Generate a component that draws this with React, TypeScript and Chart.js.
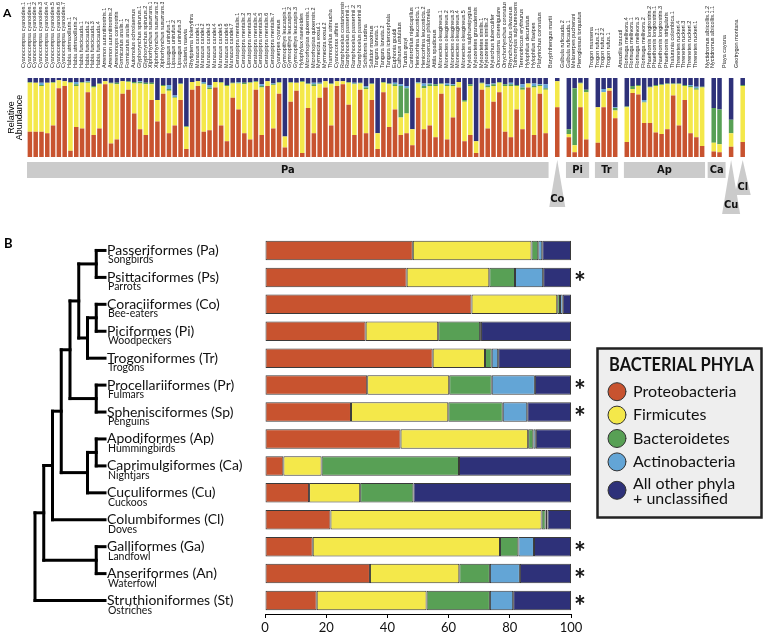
import React, { useEffect, useRef } from "react";
import { Chart, registerables } from "chart.js";
Chart.register(...registerables);

// ---------- shared ----------
const PHYLA = ["Proteobacteria", "Firmicutes", "Bacteroidetes", "Actinobacteria", "All other phyla + unclassified"];
const LEGEND_LINES = [["Proteobacteria"], ["Firmicutes"], ["Bacteroidetes"], ["Actinobacteria"], ["All other phyla", "+ unclassified"]];
const COLORS = ["#C8532F", "#F4E84A", "#58A055", "#63A5D6", "#2E3179"];
const FONT = 'Lato, "Liberation Sans", sans-serif';

// ---------- panel A data ----------
const aGroupCodes = ["Pa", "Co", "Pi", "Tr", "Ap", "Ca", "Cu", "Cl"];
const aPaNames = [
  "Cyanocompsa cyanoides.1.1", "Cyanocompsa cyanoides.1.2", "Cyanocompsa cyanoides.2", "Cyanocompsa cyanoides.3",
  "Cyanocompsa cyanoides.4", "Cyanocompsa cyanoides.5", "Cyanocompsa cyanoides.6", "Cyanocompsa cyanoides.7",
  "Habia atrimaxillaris.1", "Habia atrimaxillaris.2", "Habia fuscicauda.1", "Habia fuscicauda.2",
  "Habia fuscicauda.3", "Habia fuscicauda.4", "Arremon aurantiirostris.1", "Arremon aurantiirostris.2",
  "Arremonops conirostris", "Formicarius analis.1", "Formicarius analis.2", "Automolus ochrolaemus",
  "Glyphorynchus spirurus.1", "Glyphorynchus spirurus.2", "Xiphorhynchus susurrans.1", "Xiphorhynchus susurrans.2",
  "Xiphorhynchus susurrans.3", "Lipaugus unirufus.1", "Lipaugus unirufus.2", "Lipaugus unirufus.3",
  "Sclateria naevia", "Rhytipterna holerythra",
  "Manacus candei.1", "Manacus candei.2", "Manacus candei.3", "Manacus candei.4", "Manacus candei.5",
  "Manacus candei.6", "Manacus candei.7",
  "Ceratopipra mentalis.1", "Ceratopipra mentalis.2", "Ceratopipra mentalis.3", "Ceratopipra mentalis.4",
  "Ceratopipra mentalis.5", "Ceratopipra mentalis.6", "Ceratopipra mentalis.7",
  "Cyanerpes cyaneus", "Gymnopithys leucaspis.1", "Gymnopithys leucaspis.2", "Gymnopithys leucaspis.3",
  "Hylophylax naevioides", "Microrhopias quixensis.1", "Microrhopias quixensis.2", "Myrmeciza exsul.1",
  "Myrmeciza exsul.2", "Thamnophilus atrinucha", "Cyanocorax affinis", "Ramphocelus costaricensis",
  "Ramphocelus passerinii.1", "Ramphocelus passerinii.2", "Ramphocelus passerinii.3", "Schiffornis turdina",
  "Saltator maximus", "Tangara larvata.1", "Tangara larvata.2", "Tangara icterocephala",
  "Euphonia gouldi", "Catharus ustulatus", "Turdus grayi", "Cantorchilus nigricapillus",
  "Henicorhina leucosticta.1", "Henicorhina leucosticta.2", "Microcerculus philomela", "Attila spadiceus",
  "Mionectes oleagineus.1", "Mionectes oleagineus.2", "Mionectes oleagineus.3", "Mionectes oleagineus.4",
  "Mionectes oleagineus.5", "Myiobius sulphureipygius", "Myiozetetes granadensis", "Myiozetetes similis.1",
  "Myiozetetes similis.2", "Myiarchus tuberculifer", "Oncostoma cinereigulare", "Onychorhynchus coronatus",
  "Rhynchocyclus olivaceus", "Tolmomyias sulphurescens", "Terenotriccus erythrurus", "Hylophilus decurtatus",
  "Hylophilus flavipes", "Platyrinchus coronatus",
];
const aCoNames = ["Baryphthengus martii"];
const aPiNames = ["Galbula ruficauda.2", "Galbula ruficauda.1", "Melanerpes pucherani", "Pteroglossus torquatus"];
const aTrNames = ["Trogon massena", "Trogon rufus.2.1", "Trogon rufus.2.2", "Trogon rufus.1"];
const aApNames = [
  "Amazilia tzacatl", "Florisuga mellivora.4", "Florisuga mellivora.1", "Florisuga mellivora.3",
  "Florisuga mellivora.2", "Phaethornis longirostris.2", "Phaethornis longirostris.1", "Phaethornis longirostris.3",
  "Phaethornis striigularis", "Thalurania colombica.1", "Threnetes ruckeri.4", "Threnetes ruckeri.3",
  "Threnetes ruckeri.2", "Threnetes ruckeri.1",
];
const aCaNames = ["Nyctidromus albicollis.1.2", "Nyctidromus albicollis.1.1"];
const aCuNames = ["Piaya cayana"];
const aClNames = ["Geotrygon montana"];
const aGroupSamples = [aPaNames, aCoNames, aPiNames, aTrNames, aApNames, aCaNames, aCuNames, aClNames];

// per-sample relative abundance (%), in sample order
const aProteo = [
  32, 32, 32, 30, 40, 87, 90, 8, 38, 36, 82, 28, 36, 92, 17, 22, 80, 85, 55, 35,
  28, 72, 45, 80, 30, 40, 72, 10, 85, 90, 32, 34, 88, 40, 20, 75, 60, 30, 22, 85,
  28, 90, 36, 80, 12, 70, 84, 5, 62, 30, 75, 88, 40, 90, 92, 66, 28, 85, 30, 72,
  10, 82, 38, 60, 28, 30, 15, 75, 35, 40, 25, 80, 22, 50, 88, 20, 28, 5, 85, 36,
  70, 82, 32, 25, 60, 35, 88, 28, 80, 30,
  63, 25, 6, 63, 22, 18, 63, 84, 49,
  19, 81, 79, 43, 43, 31, 29, 35, 78, 40, 72, 30, 25, 14, 7, 6, 13, 19,
];
const aFirmi = [
  62, 62, 58, 64, 54, 10, 6, 86, 52, 58, 12, 60, 56, 4, 76, 70, 16, 10, 38, 58,
  64, 20, 27, 10, 54, 35, 20, 28, 10, 6, 60, 52, 7, 54, 70, 18, 33, 62, 72, 10,
  60, 6, 55, 14, 14, 24, 10, 90, 30, 60, 17, 8, 52, 6, 4, 28, 64, 8, 56, 20,
  20, 12, 54, 30, 22, 25, 20, 18, 52, 50, 65, 12, 68, 40, 7, 50, 62, 15, 8, 52,
  20, 12, 58, 65, 30, 50, 5, 60, 10, 55,
  33, 4, 9, 30, 60, 45, 19, 3, 10,
  44, 5, 11, 26, 45, 59, 62, 57, 14, 52, 18, 58, 60, 74, 11, 10, 17, 71,
];
const aBacter = [
  1, 0, 1, 0, 1, 0, 0, 1, 2, 1, 1, 2, 1, 0, 1, 2, 0, 1, 2, 2,
  2, 2, 0, 1, 2, 1, 1, 1, 0, 0, 1, 2, 0, 1, 1, 1, 1, 2, 1, 1,
  2, 0, 1, 1, 0, 1, 0, 1, 1, 2, 1, 0, 1, 0, 0, 1, 1, 1, 2, 1,
  0, 1, 1, 2, 40, 32, 0, 1, 3, 2, 2, 1, 1, 1, 0, 2, 2, 0, 1, 2,
  2, 1, 2, 2, 1, 3, 0, 2, 1, 2,
  0, 6, 72, 1, 3, 0, 0, 0, 3,
  1, 4, 1, 1, 1, 1, 1, 1, 1, 1, 1, 2, 2, 1, 44, 44, 17, 1,
];
const aActino = [
  0, 0, 3, 0, 0, 0, 0, 0, 3, 0, 1, 0, 0, 0, 0, 0, 0, 0, 0, 1,
  0, 0, 0, 0, 5, 2, 0, 0, 0, 0, 2, 3, 0, 0, 0, 0, 1, 0, 0, 0,
  2, 0, 1, 0, 0, 0, 0, 0, 0, 2, 1, 0, 0, 0, 0, 0, 1, 0, 2, 0,
  0, 0, 0, 2, 2, 3, 0, 1, 3, 1, 0, 0, 2, 1, 0, 0, 0, 0, 0, 2,
  1, 0, 0, 2, 0, 4, 0, 3, 1, 5,
  0, 0, 0, 0, 0, 0, 4, 0, 1,
  0, 0, 0, 2, 0, 0, 0, 0, 0, 0, 0, 1, 2, 0, 0, 0, 0, 0,
];
const aOther = [
  5, 6, 6, 6, 5, 3, 4, 5, 5, 5, 4, 10, 7, 4, 6, 6, 4, 4, 5, 4,
  6, 6, 28, 9, 9, 22, 7, 61, 5, 4, 5, 9, 5, 5, 9, 6, 5, 6, 5, 4,
  8, 4, 7, 5, 74, 5, 6, 4, 7, 6, 6, 4, 7, 4, 4, 5, 6, 6, 10, 7,
  70, 5, 7, 6, 8, 10, 65, 5, 7, 7, 8, 7, 7, 8, 5, 28, 8, 80, 6, 8,
  7, 5, 8, 6, 9, 8, 7, 7, 8, 8,
  4, 65, 13, 6, 15, 37, 14, 13, 37,
  36, 10, 9, 28, 11, 9, 8, 7, 7, 7, 9, 9, 11, 11, 38, 40, 53, 9,
];

// ---------- panel B data ----------
const bOrderNames = [
  "Passeriformes (Pa)", "Psittaciformes (Ps)", "Coraciiformes (Co)", "Piciformes (Pi)", "Trogoniformes (Tr)",
  "Procellariiformes (Pr)", "Sphenisciformes (Sp)", "Apodiformes (Ap)", "Caprimulgiformes (Ca)",
  "Cuculiformes (Cu)", "Columbiformes (Cl)", "Galliformes (Ga)", "Anseriformes (An)", "Struthioniformes (St)",
];
const bCommonNames = [
  "Songbirds", "Parrots", "Bee-eaters", "Woodpeckers", "Trogons", "Fulmars", "Penguins",
  "Hummingbirds", "Nightjars", "Cuckoos", "Doves", "Landfowl", "Waterfowl", "Ostriches",
];
const bProteo = [48.3, 46.3, 67.5, 32.9, 54.8, 33.4, 28.1, 44.3, 6.0, 14.4, 21.4, 15.6, 34.3, 16.9];
const bFirmi = [38.8, 27.0, 28.0, 23.7, 17.1, 26.8, 31.8, 41.7, 12.5, 16.7, 69.0, 61.2, 29.2, 35.9];
const bBacter = [2.2, 8.4, 0.9, 13.7, 2.2, 13.9, 17.8, 1.7, 44.9, 17.4, 1.3, 6.0, 10.0, 20.7];
const bActino = [1.3, 9.2, 0.9, 0.3, 2.1, 14.1, 8.0, 0.8, 0, 0, 0.6, 5.1, 9.8, 7.6];
const bOther = [9.4, 9.1, 2.7, 29.4, 23.8, 11.8, 14.3, 11.5, 36.6, 51.5, 7.7, 12.1, 16.7, 18.9];
const bSignificant = [false, true, false, false, false, true, true, false, false, false, false, true, true, true];
// phylogeny of the orders (leaf = row index)
const bTree: any = [[[[[[[0, 1], [[2, 3], 4]], [5, 6]], [[7, 8], 9]], 10], [11, 12]], 13];
const xTicks = [0, 20, 40, 60, 80, 100];

// ---------- build panel A slots ----------
function buildSlots() {
  const labels: string[] = [];
  const slotSample: (number | null)[] = [];
  const ranges: { code: string; start: number; end: number }[] = [];
  let s = 0;
  aGroupSamples.forEach((names, g) => {
    if (g > 0) {
      labels.push("");
      slotSample.push(null);
    }
    const start = labels.length;
    names.forEach((n) => {
      labels.push(n);
      slotSample.push(s++);
    });
    ranges.push({ code: aGroupCodes[g], start, end: labels.length - 1 });
  });
  return { labels, slotSample, ranges };
}

const PIN_DEPTH: Record<string, { base: number; text: number; hw: number }> = {
  Co: { base: 207, text: 199, hw: 8 },
  Cu: { base: 214, text: 205, hw: 9 },
  Cl: { base: 195, text: 187, hw: 8 },
};

export default function App() {
  const aRef = useRef<HTMLCanvasElement>(null);
  const bRef = useRef<HTMLCanvasElement>(null);

  useEffect(() => {
    Chart.defaults.font.family = FONT;
    const { labels, slotSample, ranges } = buildSlots();
    const aSeries = [aProteo, aFirmi, aBacter, aActino, aOther];

    const panelAPlugin = {
      id: "panelA",
      afterDraw(chart: any) {
        const ctx = chart.ctx;
        const xs = chart.scales.x;
        const area = chart.chartArea;
        const half = (xs.getPixelForValue(1) - xs.getPixelForValue(0)) / 2;
        ctx.save();
        ctx.fillStyle = "#000";
        ctx.font = `bold 12px ${FONT}`;
        ctx.textAlign = "left";
        ctx.textBaseline = "alphabetic";
        ctx.fillText("A", 3, 17);
        // y title
        ctx.save();
        ctx.translate(0, (area.top + area.bottom) / 2);
        ctx.rotate(-Math.PI / 2);
        ctx.font = `9px "Liberation Sans", Arial, sans-serif`;
        ctx.textAlign = "center";
        ctx.fillText("Relative", 0, 14);
        ctx.fillText("Abundance", 0, 22);
        ctx.restore();
        // groups
        ctx.font = `bold 11px "DejaVu Sans Condensed", "Liberation Sans Narrow", ${FONT}`;
        ctx.textAlign = "center";
        ctx.textBaseline = "middle";
        ranges.forEach((g) => {
          const x0 = xs.getPixelForValue(g.start) - half;
          const x1 = xs.getPixelForValue(g.end) + half;
          const cx = (x0 + x1) / 2;
          ctx.fillStyle = "#cbcbcb";
          if (g.end > g.start) {
            const tw = ctx.measureText(g.code).width + 4;
            const w = Math.max(x1 - x0, tw);
            ctx.fillRect(cx - w / 2, area.bottom + 5, w, 16);
            ctx.fillStyle = "#111";
            ctx.fillText(g.code, cx, area.bottom + 13.5);
          } else {
            const p = PIN_DEPTH[g.code];
            ctx.beginPath();
            ctx.moveTo(cx, area.bottom + 3);
            ctx.lineTo(cx + p.hw, p.base);
            ctx.lineTo(cx - p.hw, p.base);
            ctx.closePath();
            ctx.fill();
            ctx.fillStyle = "#111";
            ctx.fillText(g.code, cx, p.text);
          }
        });
        ctx.restore();
      },
    };

    const chartA = new Chart(aRef.current!, {
      type: "bar",
      data: {
        labels,
        datasets: PHYLA.map((p, i) => ({
          label: p,
          data: slotSample.map((s) => (s === null ? null : aSeries[i][s])),
          backgroundColor: COLORS[i],
          borderWidth: 0,
          barPercentage: 0.78,
          categoryPercentage: 1,
        })),
      },
      options: {
        responsive: false,
        animation: false,
        layout: { padding: { left: 27, right: 18.4, top: 2, bottom: 83 } },
        plugins: { legend: { display: false }, tooltip: { enabled: false } },
        scales: {
          x: {
            position: "top",
            stacked: true,
            grid: { display: false },
            border: { display: false },
            ticks: {
              autoSkip: false,
              minRotation: 90,
              maxRotation: 90,
              padding: 2,
              color: "#222",
              font: { size: 5.5, family: '"Liberation Sans", Arial, sans-serif' },
            },
            afterFit: (s: any) => {
              s.height = 76;
            },
          },
          y: { stacked: true, min: 0, max: 100, display: false },
        },
      },
      plugins: [panelAPlugin],
    } as any);

    // ---------- panel B ----------
    const OFF = 228;
    const bSeries = [bProteo, bFirmi, bBacter, bActino, bOther];
    const LEAF_X = 105;
    const STEP = 8.75;

    const panelBPlugin = {
      id: "panelB",
      afterDraw(chart: any) {
        const ctx = chart.ctx;
        const ys = chart.scales.y;
        const xs = chart.scales.x;
        ctx.save();
        ctx.fillStyle = "#000";
        ctx.font = `bold 13px ${FONT}`;
        ctx.textAlign = "left";
        ctx.textBaseline = "alphabetic";
        ctx.fillText("B", 4, 248 - OFF);

        // dendrogram
        ctx.strokeStyle = "#000";
        ctx.lineWidth = 3;
        ctx.lineCap = "square";
        const line = (x1: number, y1: number, x2: number, y2: number) => {
          ctx.beginPath();
          ctx.moveTo(x1, y1);
          ctx.lineTo(x2, y2);
          ctx.stroke();
        };
        const walk = (node: any): { x: number; y: number; h: number } => {
          if (typeof node === "number") return { x: LEAF_X, y: ys.getPixelForValue(node), h: 0 };
          const a = walk(node[0]);
          const b = walk(node[1]);
          const h = Math.max(a.h, b.h) + 1;
          const x = LEAF_X - STEP * h;
          line(x, a.y, x, b.y);
          line(x, a.y, a.x, a.y);
          line(x, b.y, b.x, b.y);
          return { x, y: (a.y + b.y) / 2, h };
        };
        walk(bTree);

        // labels
        bOrderNames.forEach((name, i) => {
          const y = ys.getPixelForValue(i);
          ctx.fillStyle = "#111";
          ctx.font = `14px ${FONT}`;
          ctx.fillText(name, 107, y + 4.5);
          ctx.font = `10.5px ${FONT}`;
          ctx.fillText(bCommonNames[i], 108, y + 13);
          if (bSignificant[i]) {
            ctx.font = `bold 28px ${FONT}`;
            ctx.textAlign = "center";
            ctx.fillText("*", xs.getPixelForValue(100) + 9, y + 15);
            ctx.textAlign = "left";
          }
        });

        // legend
        const lx = 597.5, ly = 348.5 - OFF, lw = 164, lh = 169;
        ctx.fillStyle = "#eeeeee";
        ctx.fillRect(lx, ly, lw, lh);
        ctx.strokeStyle = "#222";
        ctx.lineWidth = 2.5;
        ctx.strokeRect(lx, ly, lw, lh);
        ctx.fillStyle = "#111";
        ctx.font = `bold 18px ${FONT}`;
        ctx.fillText("BACTERIAL PHYLA", 609, 371 - OFF, 145);
        let cy = 391.7 - OFF;
        chart.data.datasets.forEach((ds: any, i: number) => {
          const lines = LEGEND_LINES[i];
          const c = lines.length > 1 ? cy + 5 : cy;
          ctx.beginPath();
          ctx.arc(617, c, 9, 0, Math.PI * 2);
          ctx.fillStyle = ds.backgroundColor;
          ctx.fill();
          ctx.strokeStyle = "#333";
          ctx.lineWidth = 1;
          ctx.stroke();
          ctx.fillStyle = "#111";
          ctx.font = `16px ${FONT}`;
          ctx.textBaseline = "middle";
          if (lines.length === 1) ctx.fillText(lines[0], 633, c);
          else {
            ctx.fillText(lines[0], 633, c - 6);
            ctx.fillText(lines[1], 633, c + 9);
          }
          ctx.textBaseline = "alphabetic";
          cy += 23.4;
        });
        ctx.restore();
      },
    };

    const chartB = new Chart(bRef.current!, {
      type: "bar",
      data: {
        labels: bOrderNames,
        datasets: PHYLA.map((p, i) => ({
          label: p,
          data: bSeries[i],
          backgroundColor: COLORS[i],
          borderColor: "#3a3a3a",
          borderWidth: 1,
          borderSkipped: false,
          barPercentage: 0.725,
          categoryPercentage: 1,
        })),
      },
      options: {
        indexAxis: "y",
        responsive: false,
        animation: false,
        layout: { padding: { left: 265, right: 193, top: 9, bottom: 0 } },
        plugins: { legend: { display: false }, tooltip: { enabled: false } },
        scales: {
          x: {
            stacked: true,
            min: 0,
            max: 100,
            afterBuildTicks: (s: any) => {
              s.ticks = xTicks.map((v) => ({ value: v }));
            },
            ticks: { color: "#111", padding: 2, font: { size: 13 } },
            grid: { drawOnChartArea: false, tickLength: 4, color: "#000" },
            border: { color: "#000", width: 1 },
            afterFit: (s: any) => {
              s.height = 19;
            },
          },
          y: { stacked: true, display: false },
        },
      },
      plugins: [panelBPlugin],
    } as any);

    return () => {
      chartA.destroy();
      chartB.destroy();
    };
  }, []);

  return (
    <div style={{ position: "fixed", left: 0, top: 0, width: 764, height: 633, background: "#fff" }}>
      <canvas ref={aRef} width={764} height={240} style={{ position: "absolute", left: 0, top: 0 }} />
      <canvas ref={bRef} width={764} height={405} style={{ position: "absolute", left: 0, top: 228 }} />
    </div>
  );
}
